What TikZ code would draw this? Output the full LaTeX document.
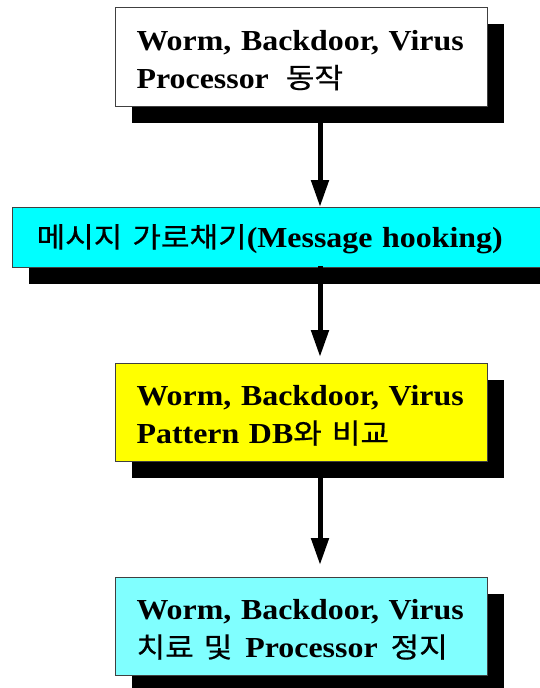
\documentclass[tikz,border=0pt]{standalone}
\usepackage{fontspec}
\setmainfont{Liberation Serif}[FakeStretch=1.10]
\newfontfamily\krfont{Noto Sans CJK KR}[FakeStretch=1.11,FakeBold=0.6]
\usetikzlibrary{arrows.meta,shadows}
\definecolor{boxcyan}{RGB}{0,255,255}
\definecolor{boxyellow}{RGB}{255,255,0}
\definecolor{boxpale}{RGB}{128,255,255}
\newcommand\ko[1]{{\fontsize{28pt}{38pt}\krfont\mdseries #1}}
\tikzset{
  stepbox/.style={draw=black!75, line width=1.2pt, anchor=north west,
    inner xsep=21pt, inner ysep=0pt, align=left,
    font=\fontsize{29pt}{38pt}\selectfont\bfseries,
    execute at begin node={\rule{0pt}{26pt}},
    drop shadow={shadow xshift=16pt, shadow yshift=-16pt, opacity=1, fill=black}},
  flow/.style={line width=5pt, -{Triangle[width=17pt,length=27pt]}}
}
\begin{document}
\begin{tikzpicture}[x=1pt,y=-1pt]
\useasboundingbox (0,0) rectangle (540,688);
% process boxes
\node[stepbox, fill=white, minimum width=372pt, minimum height=99pt, text width=330pt]
  (b1) at (115,7) {Worm, Backdoor, Virus\\Processor\hspace{17pt}\ko{동작}};
\node[stepbox, fill=boxcyan, minimum width=548pt, minimum height=60pt, text width=500pt, inner xsep=23pt]
  (b2) at (12,207) {\ko{메시지}\hspace{10pt}\ko{가로채기}(Message hooking)};
\node[stepbox, fill=boxyellow, minimum width=372pt, minimum height=98pt, text width=330pt]
  (b3) at (115,363) {Worm, Backdoor, Virus\\Pattern DB\ko{와}\hspace{10pt}\ko{비교}};
\node[stepbox, fill=boxpale, minimum width=372pt, minimum height=98pt, text width=330pt]
  (b4) at (115,577) {Worm, Backdoor, Virus\\\ko{치료}\hspace{10pt}\ko{및}\hspace{13pt}Processor\hspace{13pt}\ko{정지}};
% connectors
\coordinate (ax) at (320,0);
\draw[flow] (b1.south -| ax) -- (b2.north -| ax);
\draw[flow] ([yshift=2pt]b2.south -| ax) -- ([yshift=6pt]b3.north -| ax);
\draw[flow] (b3.south -| ax) -- ([yshift=12pt]b4.north -| ax);
\end{tikzpicture}
\end{document}
